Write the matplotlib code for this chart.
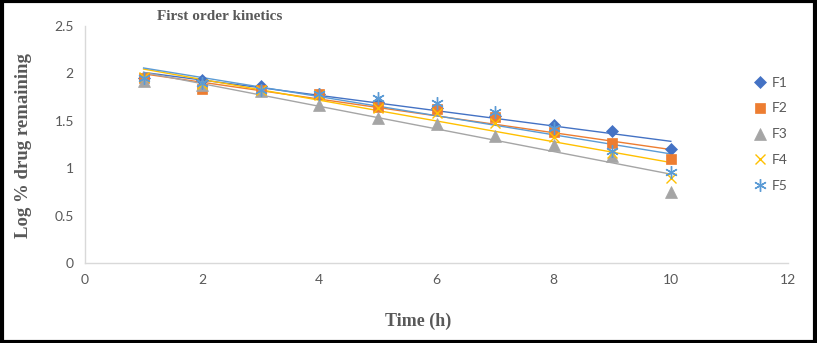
import numpy as np
import matplotlib.pyplot as plt
from matplotlib.patches import Rectangle

# Log % drug remaining vs time for five formulations
time_h = [1, 2, 3, 4, 5, 6, 7, 8, 9, 10]
f1 = [1.95, 1.93, 1.87, 1.78, 1.70, 1.64, 1.55, 1.46, 1.39, 1.20]
f2 = [1.95, 1.84, 1.83, 1.78, 1.65, 1.62, 1.54, 1.38, 1.27, 1.10]
f3 = [1.92, 1.88, 1.81, 1.67, 1.53, 1.47, 1.34, 1.24, 1.13, 0.75]
f4 = [1.96, 1.89, 1.83, 1.77, 1.63, 1.58, 1.48, 1.33, 1.16, 0.90]
f5 = [1.95, 1.90, 1.83, 1.78, 1.74, 1.69, 1.59, 1.42, 1.18, 0.96]
names = ['F1', 'F2', 'F3', 'F4', 'F5']

series = [f1, f2, f3, f4, f5]
colors = ['#4472C4', '#ED7D31', '#A5A5A5', '#FFC000', '#5B9BD5']
markers = ['D', 's', '^', 'x', (6, 2, 0)]
msizes = [6, 7, 8, 7, 9]

fig = plt.figure(figsize=(8.17, 3.43), dpi=100)
ax = fig.add_axes([85 / 817, 1 - 263 / 343, (788 - 85) / 817, (263 - 26) / 343])

x = np.array(time_h, dtype=float)
for y, c, m, ms, name in zip(series, colors, markers, msizes, names):
    thin = m == 'x' or isinstance(m, tuple)
    ax.plot(x, y, linestyle='none', marker=m, color=c, markersize=ms,
            markeredgewidth=1.0 if thin else 0.5, label=name, zorder=3)
    # linear trendline over the sampled range
    k, b = np.polyfit(x, y, 1)
    ax.plot([x[0], x[-1]], [k * x[0] + b, k * x[-1] + b], color=c, lw=1.0, zorder=2)

ax.set_xlim(0, 12)
ax.set_ylim(0, 2.5)
ax.set_xticks(range(0, 13, 2))
ax.set_yticks([0, 0.5, 1, 1.5, 2, 2.5])
ax.set_yticklabels(['0', '0.5', '1', '1.5', '2', '2.5'])
ax.tick_params(length=0, labelsize=10, colors='#595959', pad=8)
for lab in ax.get_xticklabels() + ax.get_yticklabels():
    lab.set_family('Lato')
for s in ['top', 'right']:
    ax.spines[s].set_visible(False)
for s in ['left', 'bottom']:
    ax.spines[s].set_color('#D9D9D9')
    ax.spines[s].set_linewidth(1)

ax.set_xlabel('Time (h)', family='Liberation Serif', fontweight='bold',
              fontsize=13, color='#595959')
ax.xaxis.set_label_coords((418 - 85) / (788 - 85), -(313 - 263) / (263 - 26))
ax.set_ylabel('Log % drug remaining', family='Liberation Serif', fontweight='bold',
              fontsize=13.5, color='#595959')
ax.yaxis.set_label_coords(-(85 - 32) / (788 - 85), (263 - 146) / (263 - 26))
fig.text(220 / 817, 1 - 17 / 343, 'First order kinetics', family='Liberation Serif',
         fontweight='bold', fontsize=11, color='#595959', ha='center', va='center')

leg = ax.legend(loc='upper left', bbox_to_anchor=(0.945, 0.81), frameon=False,
                fontsize=10, handlelength=0.8, handletextpad=0.4, labelspacing=1.0,
                borderaxespad=0)
for t in leg.get_texts():
    t.set_color('#595959')
    t.set_family('Lato')

# black frame around the whole chart
fig.patches.append(Rectangle((0.002, 0.004), 0.996, 0.992, transform=fig.transFigure,
                             fill=False, edgecolor='black', lw=3))

fig.savefig('out.png', dpi=100)
